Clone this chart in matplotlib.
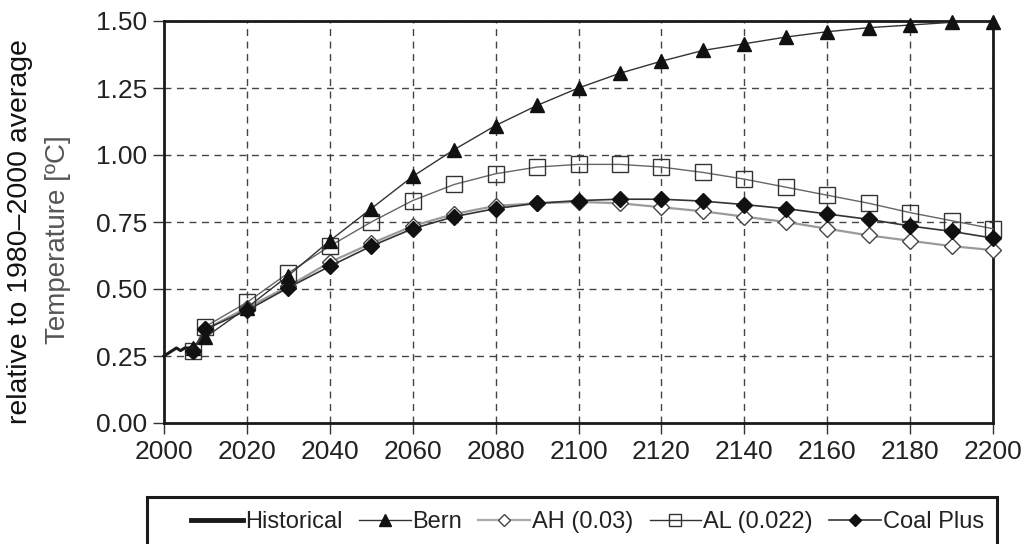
import matplotlib
matplotlib.use("Agg")
import matplotlib.pyplot as plt
from matplotlib.lines import Line2D
from matplotlib.patches import Rectangle

plt.rcParams['font.family'] = ['Liberation Sans', 'DejaVu Sans']

years = [2007, 2010, 2020, 2030, 2040, 2050, 2060, 2070, 2080, 2090, 2100,
         2110, 2120, 2130, 2140, 2150, 2160, 2170, 2180, 2190, 2200]
hist_years = [2000, 2001, 2002, 2003, 2004, 2005, 2006, 2007]
hist_vals = [0.25, 0.26, 0.27, 0.28, 0.27, 0.28, 0.28, 0.28]
bern = [0.28, 0.32, 0.43, 0.55, 0.68, 0.80, 0.92, 1.02, 1.11, 1.185, 1.25,
        1.305, 1.35, 1.39, 1.415, 1.44, 1.46, 1.475, 1.485, 1.495, 1.495]
ah = [0.27, 0.35, 0.43, 0.51, 0.60, 0.67, 0.735, 0.78, 0.81, 0.82, 0.825,
      0.82, 0.805, 0.79, 0.77, 0.75, 0.725, 0.70, 0.68, 0.66, 0.645]
al = [0.27, 0.36, 0.45, 0.56, 0.66, 0.75, 0.83, 0.89, 0.93, 0.955, 0.965,
      0.965, 0.955, 0.935, 0.91, 0.88, 0.85, 0.82, 0.785, 0.755, 0.725]
coal = [0.27, 0.35, 0.42, 0.505, 0.585, 0.66, 0.725, 0.77, 0.80, 0.82, 0.83,
        0.835, 0.835, 0.828, 0.815, 0.80, 0.78, 0.76, 0.735, 0.715, 0.69]
xticks = list(range(2000, 2201, 20))
yticks = [0.0, 0.25, 0.5, 0.75, 1.0, 1.25, 1.5]

fig = plt.figure(figsize=(10.25, 5.44), dpi=100)
ax = fig.add_axes([164/1025, 1-423/544, (993-164)/1025, (423-21)/544])

ax.plot(hist_years, hist_vals, color='#1a1a1a', lw=2.2, zorder=5, clip_on=False)
ax.plot(years, bern, color='#333333', lw=1.0, marker='^', ms=10,
        mfc='#111111', mec='#111111', zorder=4, clip_on=False)
ax.plot(years, ah, color='#9a9a9a', lw=1.6, marker='D', ms=8,
        mfc='white', mec='#444444', mew=1.0, zorder=3, clip_on=False)
ax.plot(years, al, color='#666666', lw=1.0, marker='s', ms=11,
        mfc='none', mec='#333333', mew=1.0, zorder=3, clip_on=False)
ax.plot(years, coal, color='#333333', lw=1.2, marker='D', ms=8,
        mfc='#111111', mec='#111111', zorder=4, clip_on=False)

ax.set_xlim(2000, 2200)
ax.set_ylim(0, 1.5)
ax.set_xticks(xticks)
ax.set_yticks(yticks)
ax.set_yticklabels([f"{v:.2f}" for v in yticks])
ax.grid(True, color='#444444', ls=(0, (5, 4)), lw=1.0)
for s in ax.spines.values():
    s.set_linewidth(2.0)
    s.set_color('#1a1a1a')
ax.tick_params(axis='both', labelsize=19, colors='#333333', direction='out',
               length=8, width=1.0, pad=4)
ax.tick_params(axis='both', labelcolor='#222222')

fig.text(20/1025, 1-232/544, "relative to 1980\u20132000 average", rotation=90,
         ha='center', va='center', fontsize=20.5, color='#111111')
fig.text(58/1025, 1-240/544, "Temperature [ºC]", rotation=90,
         ha='center', va='center', fontsize=20, color='#555555')

handles = [
    Line2D([], [], color='#1a1a1a', lw=3.5),
    Line2D([], [], color='#333333', lw=1.0, marker='^', ms=9, mfc='#111111', mec='#111111'),
    Line2D([], [], color='#aaaaaa', lw=1.6, marker='D', ms=6, mfc='white', mec='#444444'),
    Line2D([], [], color='#333333', lw=1.0, marker='s', ms=9, mfc='none', mec='#333333'),
    Line2D([], [], color='#333333', lw=1.2, marker='D', ms=6, mfc='#111111', mec='#111111'),
]
labels = ["Historical", "Bern", "AH (0.03)", "AL (0.022)", "Coal Plus"]
leg = fig.legend(handles, labels, loc='center right', ncol=5,
                 bbox_to_anchor=(984/1025, 1-522/544), fontsize=17,
                 frameon=False,
                 handlelength=2.2, handletextpad=0.08, columnspacing=0.68,
                 borderpad=0.0, borderaxespad=0)
for t in leg.get_texts():
    t.set_color('#222222')

frame = Rectangle((147/1025, -0.05), (997-147)/1025, 1-497/544 + 0.05,
                  transform=fig.transFigure, fill=False, edgecolor='#1a1a1a',
                  lw=2.2, clip_on=False)
fig.patches.append(frame)

fig.savefig("out.png", dpi=100)
